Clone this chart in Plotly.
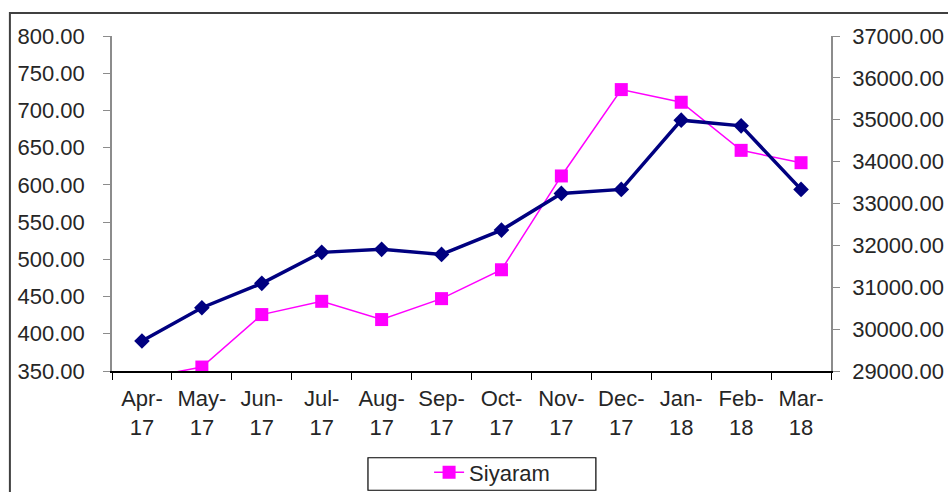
import plotly.graph_objects as go

months = ["Apr-17", "May-17", "Jun-17", "Jul-17", "Aug-17", "Sep-17",
          "Oct-17", "Nov-17", "Dec-17", "Jan-18", "Feb-18", "Mar-18"]
tick_labels = ["Apr-<br>17", "May-<br>17", "Jun-<br>17", "Jul-<br>17", "Aug-<br>17", "Sep-<br>17",
               "Oct-<br>17", "Nov-<br>17", "Dec-<br>17", "Jan-<br>18", "Feb-<br>18", "Mar-<br>18"]
siyaram = [340.0, 355.3, 425.8, 443.6, 419.1, 447.2, 486.0, 612.0, 728.0, 711.0, 646.4, 629.8]
index_vals = [29716, 30511, 31093, 31833, 31905, 31785, 32365, 33241, 33337, 34990, 34854, 33337]

left_ticks = [350, 400, 450, 500, 550, 600, 650, 700, 750, 800]
right_ticks = [29000, 30000, 31000, 32000, 33000, 34000, 35000, 36000, 37000]

FONT = "Arial, Liberation Sans, sans-serif"
n = len(months)
boundaries = [i - 0.5 for i in range(n + 1)]

fig = go.Figure()
fig.add_trace(go.Scatter(
    x=months, y=index_vals, name="Sensex", xaxis="x", yaxis="y2",
    mode="lines+markers", line=dict(color="#000080", width=3.5),
    marker=dict(symbol="diamond", size=12, color="#000080"),
    showlegend=False,
))
fig.add_trace(go.Scatter(
    x=months, y=siyaram, name="Siyaram", xaxis="x", yaxis="y",
    mode="lines+markers", line=dict(color="#FF00FF", width=1.5),
    marker=dict(symbol="square", size=13, color="#FF00FF"),
))

tickfont = dict(family=FONT, size=22, color="#262626")

fig.update_layout(
    width=948, height=492,
    margin=dict(l=112, r=117, t=36, b=121, autoexpand=False),
    paper_bgcolor="white", plot_bgcolor="white",
    font=dict(family=FONT, size=22, color="#262626"),
    xaxis=dict(
        type="category", categoryorder="array", categoryarray=months,
        tickmode="array", tickvals=months, ticktext=tick_labels,
        tickson="boundaries", ticks="outside", ticklen=7, tickcolor="black",
        showline=True, linecolor="black", linewidth=2,
        showgrid=False, zeroline=False, tickfont=tickfont,
        range=[-0.5, n - 0.5], ticklabelstandoff=7, automargin=False,
    ),
    xaxis2=dict(
        overlaying="x", anchor="y", side="bottom", range=[-0.5, n - 0.5],
        tickmode="array", tickvals=boundaries, ticks="inside", ticklen=7,
        tickcolor="black", showticklabels=False, showgrid=False,
        zeroline=False, showline=False, automargin=False,
    ),
    yaxis=dict(
        range=[350, 800], tickmode="array", tickvals=left_ticks,
        ticktext=[f"{v:.2f}" for v in left_ticks],
        ticks="outside", ticklen=7, tickcolor="#8c8c8c",
        showline=True, linecolor="#8c8c8c", linewidth=1.5,
        showgrid=False, zeroline=False, tickfont=tickfont,
        ticklabelstandoff=14, automargin=False,
    ),
    yaxis3=dict(
        overlaying="y", anchor="x", side="left", range=[350, 800],
        tickmode="array", tickvals=left_ticks, ticks="inside", ticklen=7,
        tickcolor="#8c8c8c", showticklabels=False, showgrid=False,
        zeroline=False, showline=False, automargin=False,
    ),
    yaxis2=dict(
        overlaying="y", side="right", anchor="x", range=[29000, 37000],
        tickmode="array", tickvals=right_ticks,
        ticktext=[f"{v:.2f}" for v in right_ticks],
        ticks="outside", ticklen=7, tickcolor="#8c8c8c",
        showline=True, linecolor="#8c8c8c", linewidth=1.5,
        showgrid=False, zeroline=False, tickfont=tickfont,
        ticklabelstandoff=8, automargin=False,
    ),
    yaxis4=dict(
        overlaying="y", side="right", anchor="x", range=[29000, 37000],
        tickmode="array", tickvals=right_ticks, ticks="inside", ticklen=7,
        tickcolor="#8c8c8c", showticklabels=False, showgrid=False,
        zeroline=False, showline=False, automargin=False,
    ),
    legend=dict(
        x=0.441, y=-0.24, xanchor="left", yanchor="top",
        bgcolor="rgba(0,0,0,0)", borderwidth=0,
        font=dict(family=FONT, size=22, color="#262626"),
    ),
    shapes=[
        dict(type="rect", xref="paper", yref="paper",
             x0=-0.142, x1=1.4, y0=-0.6, y1=1.069,
             line=dict(color="#404040", width=2), fillcolor="rgba(0,0,0,0)",
             layer="below"),
        dict(type="rect", xref="paper", yref="paper",
             x0=0.356, x1=0.673, y0=-0.356, y1=-0.259,
             line=dict(color="black", width=1.2), fillcolor="rgba(0,0,0,0)"),
    ],
)

fig.write_html(
    "out.html",
    config={"displayModeBar": False},
    post_script="document.body.style.margin='0';document.body.style.overflow='hidden';",
)
